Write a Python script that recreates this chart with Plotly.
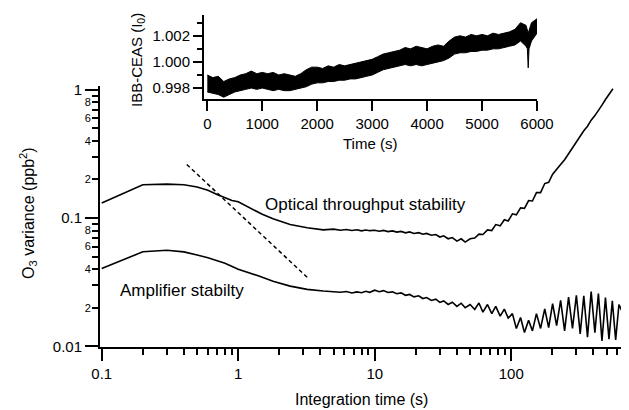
import plotly.graph_objects as go

# ---------------- main chart data ----------------
opt_tau = [0.1, 0.2, 0.3, 0.4, 0.5, 0.6, 0.7, 0.8, 0.9, 1.0, 1.2, 1.5, 1.8, 2.4, 3.2, 4.2, 5.0,
           5.6, 6.2, 6.8, 7.4, 8.0, 8.6, 9.2, 10, 10.8, 11.6, 12.5, 13.5, 14.5, 15.6, 16.8, 18,
           19.4, 21, 22.5, 24, 26, 28, 30, 32, 34.5, 37, 40, 43, 46, 50, 54, 58, 62, 67, 72,
           77, 83, 89, 95, 102, 109, 117, 125, 134, 143, 153, 164, 176, 188, 201, 215, 230,
           246, 263, 281, 300, 320, 340, 362, 385, 410, 435, 462, 490, 520, 556]
opt_var = [0.131, 0.182, 0.184, 0.182, 0.175, 0.165, 0.153, 0.144, 0.137, 0.134, 0.121, 0.107,
           0.099, 0.089, 0.084, 0.081, 0.082,
           0.0805, 0.0815, 0.0800, 0.0812, 0.0795, 0.0808, 0.0798, 0.0805, 0.0790, 0.0802,
           0.0785, 0.0795, 0.0778, 0.0788, 0.0768, 0.0780, 0.0758, 0.0770, 0.0748, 0.0760,
           0.0735, 0.0745, 0.0712, 0.0728, 0.0690, 0.0705, 0.0662, 0.0690, 0.0650, 0.0690,
           0.0700, 0.0750, 0.0745, 0.0810, 0.0800, 0.0890, 0.0870, 0.0970, 0.0950, 0.1080,
           0.1060, 0.1200, 0.1190, 0.1370, 0.1360, 0.1580, 0.1580, 0.1860, 0.1900, 0.2200,
           0.2380, 0.2620, 0.2850, 0.3180, 0.3500, 0.3900, 0.4300, 0.4800, 0.5200, 0.5800,
           0.6300, 0.7000, 0.7600, 0.8400, 0.9200, 1.0200]

amp_tau = [0.1, 0.2, 0.3, 0.4, 0.5, 0.6, 0.8, 1.0, 1.4, 1.8, 2.4, 3.2, 4.2, 5.0,
           5.6, 6.2, 6.8, 7.4, 8.0, 8.6, 9.2, 10, 10.8, 11.6, 12.5, 13.5, 14.5, 15.6, 16.8, 18,
           19.4, 21, 22.5, 24, 26, 28, 30, 32, 34.5, 37, 40, 43, 46, 50, 54, 58, 62, 67, 72,
           77, 83, 89, 95, 102, 109, 117, 125, 134, 143, 153, 164, 176, 188, 201, 215, 230,
           246, 263, 281, 300, 320, 340, 362, 385, 410, 435, 462, 490, 520, 550, 582, 615, 645]
amp_var = [0.0405, 0.0546, 0.0562, 0.0545, 0.0515, 0.049, 0.0445, 0.040, 0.0355, 0.0322,
           0.0295, 0.0278, 0.0270, 0.0268,
           0.0264, 0.0268, 0.0261, 0.0266, 0.0262, 0.0269, 0.0264, 0.0274, 0.0267, 0.0272,
           0.0263, 0.0266, 0.0257, 0.0261, 0.0250, 0.0254, 0.0243, 0.0248, 0.0236, 0.0240,
           0.0228, 0.0233, 0.0220, 0.0226, 0.0212, 0.0221, 0.0205, 0.0217, 0.0200, 0.0212,
           0.0194, 0.0218, 0.0185, 0.0212, 0.0180, 0.0205, 0.0172, 0.0195, 0.0166, 0.0180,
           0.0138, 0.0168, 0.0128, 0.0160, 0.0132, 0.0180, 0.0138, 0.0196, 0.0140, 0.0215,
           0.0145, 0.0228, 0.0132, 0.0242, 0.0138, 0.0250, 0.0125, 0.0248, 0.0118, 0.0268,
           0.0128, 0.0258, 0.0110, 0.0240, 0.0114, 0.0226, 0.0112, 0.0212, 0.0190]

slope_tau = [0.42, 3.3]
slope_var = [0.262, 0.0335]

x_major = [0.1, 1, 10, 100]
x_major_text = ["0.1", "1", "10", "100"]
x_minor = [0.2, 0.3, 0.4, 0.5, 0.6, 0.7, 0.8, 0.9, 2, 3, 4, 5, 6, 7, 8, 9,
           20, 30, 40, 50, 60, 70, 80, 90, 200, 300, 400, 500, 600, 700]
y_major = [0.01, 0.1, 1]
y_major_text = ["0.01", "0.1", "1"]
y_minor = [0.02, 0.03, 0.04, 0.05, 0.06, 0.07, 0.08, 0.09,
           0.2, 0.3, 0.4, 0.5, 0.6, 0.7, 0.8, 0.9]
y_minor_lab = [0.02, 0.04, 0.06, 0.08, 0.2, 0.4, 0.6, 0.8]
y_minor_lab_text = ["2", "4", "6", "8", "2", "4", "6", "8"]

# ---------------- inset data (envelope of the noisy trace) ----------------
t_up = [0, 100, 200, 300, 400, 500, 600, 700, 800, 900, 1000, 1100, 1200, 1300, 1400, 1500,
        1600, 1700, 1800, 1900, 2000, 2100, 2200, 2300, 2400, 2500, 2600, 2700, 2800, 2900,
        3000, 3100, 3200, 3300, 3400, 3500, 3600, 3700, 3800, 3900, 4000, 4100, 4200, 4300,
        4400, 4500, 4600, 4700, 4800, 4900, 5000, 5100, 5200, 5300, 5400, 5500, 5600, 5700,
        5800, 5840, 5900, 6000]
ceas_up = [0.9990, 0.9988, 0.9989, 0.9985, 0.9987, 0.9988, 0.9990, 0.9991, 0.9993, 0.9991,
           0.9992, 0.9991, 0.9992, 0.9990, 0.9991, 0.9990, 0.9989, 0.9991, 0.9994, 0.9996,
           0.9996, 0.9995, 0.9997, 0.9996, 0.9998, 0.9997, 0.9998, 0.9999, 1.0000, 1.0001,
           1.0002, 1.0004, 1.0006, 1.0007, 1.0008, 1.0009, 1.0011, 1.0010, 1.0012, 1.0011,
           1.0010, 1.0012, 1.0013, 1.0012, 1.0016, 1.0019, 1.0020, 1.0019, 1.0021, 1.0020,
           1.0021, 1.0020, 1.0022, 1.0021, 1.0022, 1.0023, 1.0025, 1.0030, 1.0028, 1.0022,
           1.0030, 1.0033]
t_lo = [0, 100, 200, 300, 400, 500, 600, 700, 800, 900, 1000, 1100, 1200, 1300, 1400, 1500,
        1600, 1700, 1800, 1900, 2000, 2100, 2200, 2300, 2400, 2500, 2600, 2700, 2800, 2900,
        3000, 3100, 3200, 3300, 3400, 3500, 3600, 3700, 3800, 3900, 4000, 4100, 4200, 4300,
        4400, 4500, 4600, 4700, 4800, 4900, 5000, 5100, 5200, 5300, 5400, 5500, 5600, 5700,
        5800, 5825, 5840, 5855, 5900, 6000]
ceas_lo = [0.9977, 0.9976, 0.9975, 0.9973, 0.9975, 0.9977, 0.9978, 0.9979, 0.9980, 0.9979,
           0.9980, 0.9979, 0.9978, 0.9979, 0.9978, 0.9978, 0.9979, 0.9980, 0.9981, 0.9983,
           0.9984, 0.9984, 0.9985, 0.9985, 0.9986, 0.9986, 0.9987, 0.9987, 0.9988, 0.9989,
           0.9990, 0.9992, 0.9994, 0.9995, 0.9996, 0.9997, 0.9998, 0.9997, 0.9998, 0.9997,
           0.9998, 0.9999, 1.0000, 1.0001, 1.0003, 1.0006, 1.0007, 1.0007, 1.0008, 1.0008,
           1.0009, 1.0009, 1.0010, 1.0010, 1.0011, 1.0012, 1.0013, 1.0016, 1.0012, 1.0010,
           0.99955, 1.0010, 1.0016, 1.0022]

t_ticks = [0, 1000, 2000, 3000, 4000, 5000, 6000]
ceas_major = [0.998, 1.000, 1.002]
ceas_major_text = ["0.998", "1.000", "1.002"]
ceas_minor = [0.999, 1.001, 1.003]

# ---------------- figure ----------------
FONT = "Liberation Sans, Arial, sans-serif"
OFF = 8                      # default page body margin
W, H = 629 - OFF, 410 - OFF


def fx(p):
    return (p - OFF) / W


def fy(p):
    return 1 - (p - OFF) / H


fig = go.Figure()
fig.add_trace(go.Scatter(x=opt_tau, y=opt_var, mode="lines",
                         line=dict(color="black", width=1.6), xaxis="x", yaxis="y"))
fig.add_trace(go.Scatter(x=amp_tau, y=amp_var, mode="lines",
                         line=dict(color="black", width=1.6), xaxis="x", yaxis="y"))
fig.add_trace(go.Scatter(x=slope_tau, y=slope_var, mode="lines",
                         line=dict(color="black", width=1.5, dash="4px,3px"),
                         xaxis="x", yaxis="y3"))
fig.add_trace(go.Scatter(x=t_up + t_lo[::-1], y=ceas_up + ceas_lo[::-1], mode="lines",
                         fill="toself", fillcolor="black",
                         line=dict(color="black", width=1), xaxis="x2", yaxis="y2"))

axis_common = dict(showgrid=False, zeroline=False, showline=True, linecolor="black",
                   linewidth=2, ticks="outside", tickcolor="black", tickwidth=1.5,
                   automargin=False,
                   tickfont=dict(family=FONT, size=15, color="black"))

fig.update_layout(
    width=W, height=H, autosize=False,
    margin=dict(l=0, r=0, t=0, b=0, pad=0),
    paper_bgcolor="white", plot_bgcolor="rgba(0,0,0,0)",
    showlegend=False,
    font=dict(family=FONT, color="black"),
    xaxis=dict(axis_common, type="log", domain=[fx(100), fx(627)],
               range=[-1.0125, 2.848], anchor="y",
               tickvals=x_major, ticktext=x_major_text, ticklen=12,
               minor=dict(tickvals=x_minor, ticks="outside", ticklen=6,
                          tickcolor="black", tickwidth=1.5)),
    yaxis=dict(axis_common, type="log", domain=[fy(347), fy(86)],
               range=[-2.005, 0.03], anchor="x",
               tickvals=y_major, ticktext=y_major_text, ticklen=13,
               minor=dict(tickvals=y_minor, ticks="outside", ticklen=6,
                          tickcolor="black", tickwidth=1.5)),
    yaxis3=dict(type="log", overlaying="y", anchor="x", side="left", automargin=False,
                range=[-2.005, 0.03], showgrid=False, zeroline=False, showline=False,
                ticks="outside", ticklen=6, tickwidth=1.5, tickcolor="black",
                tickvals=y_minor_lab, ticktext=y_minor_lab_text,
                tickfont=dict(family=FONT, size=11, color="black")),
    xaxis2=dict(axis_common, domain=[fx(204), fx(537)], range=[-60, 6000], anchor="y2",
                tickvals=t_ticks, ticklen=10,
                tickfont=dict(family=FONT, size=15, color="black")),
    yaxis2=dict(axis_common, domain=[fy(99.3), fy(15)], range=[0.99714, 1.00359],
                anchor="x2", tickvals=ceas_major, ticktext=ceas_major_text, ticklen=9,
                tickfont=dict(family=FONT, size=15, color="black"),
                minor=dict(tickvals=ceas_minor, ticks="outside", ticklen=5,
                           tickcolor="black", tickwidth=1.5)),
)

ann = [
    dict(text="Integration time (s)", x=fx(361), y=fy(399), size=16, angle=0, xa="center"),
    dict(text="O<sub>3</sub> variance (ppb<sup>2</sup>)", x=fx(28), y=fy(213), size=16,
         angle=-90, xa="center"),
    dict(text="IBB-CEAS (I<sub>0</sub>)", x=fx(138), y=fy(60), size=15, angle=-90,
         xa="center"),
    dict(text="Time (s)", x=fx(370), y=fy(143), size=15, angle=0, xa="center"),
    dict(text="Optical throughput stability", x=fx(263), y=fy(204), size=17, angle=0,
         xa="left"),
    dict(text="Amplifier stabilty", x=fx(118), y=fy(290), size=17, angle=0, xa="left"),
]
for a in ann:
    fig.add_annotation(text=a["text"], x=a["x"], y=a["y"], xref="paper", yref="paper",
                       showarrow=False, textangle=a["angle"], xanchor=a["xa"],
                       yanchor="middle",
                       font=dict(family=FONT, size=a["size"], color="black"))

fig.write_html("out.html")
